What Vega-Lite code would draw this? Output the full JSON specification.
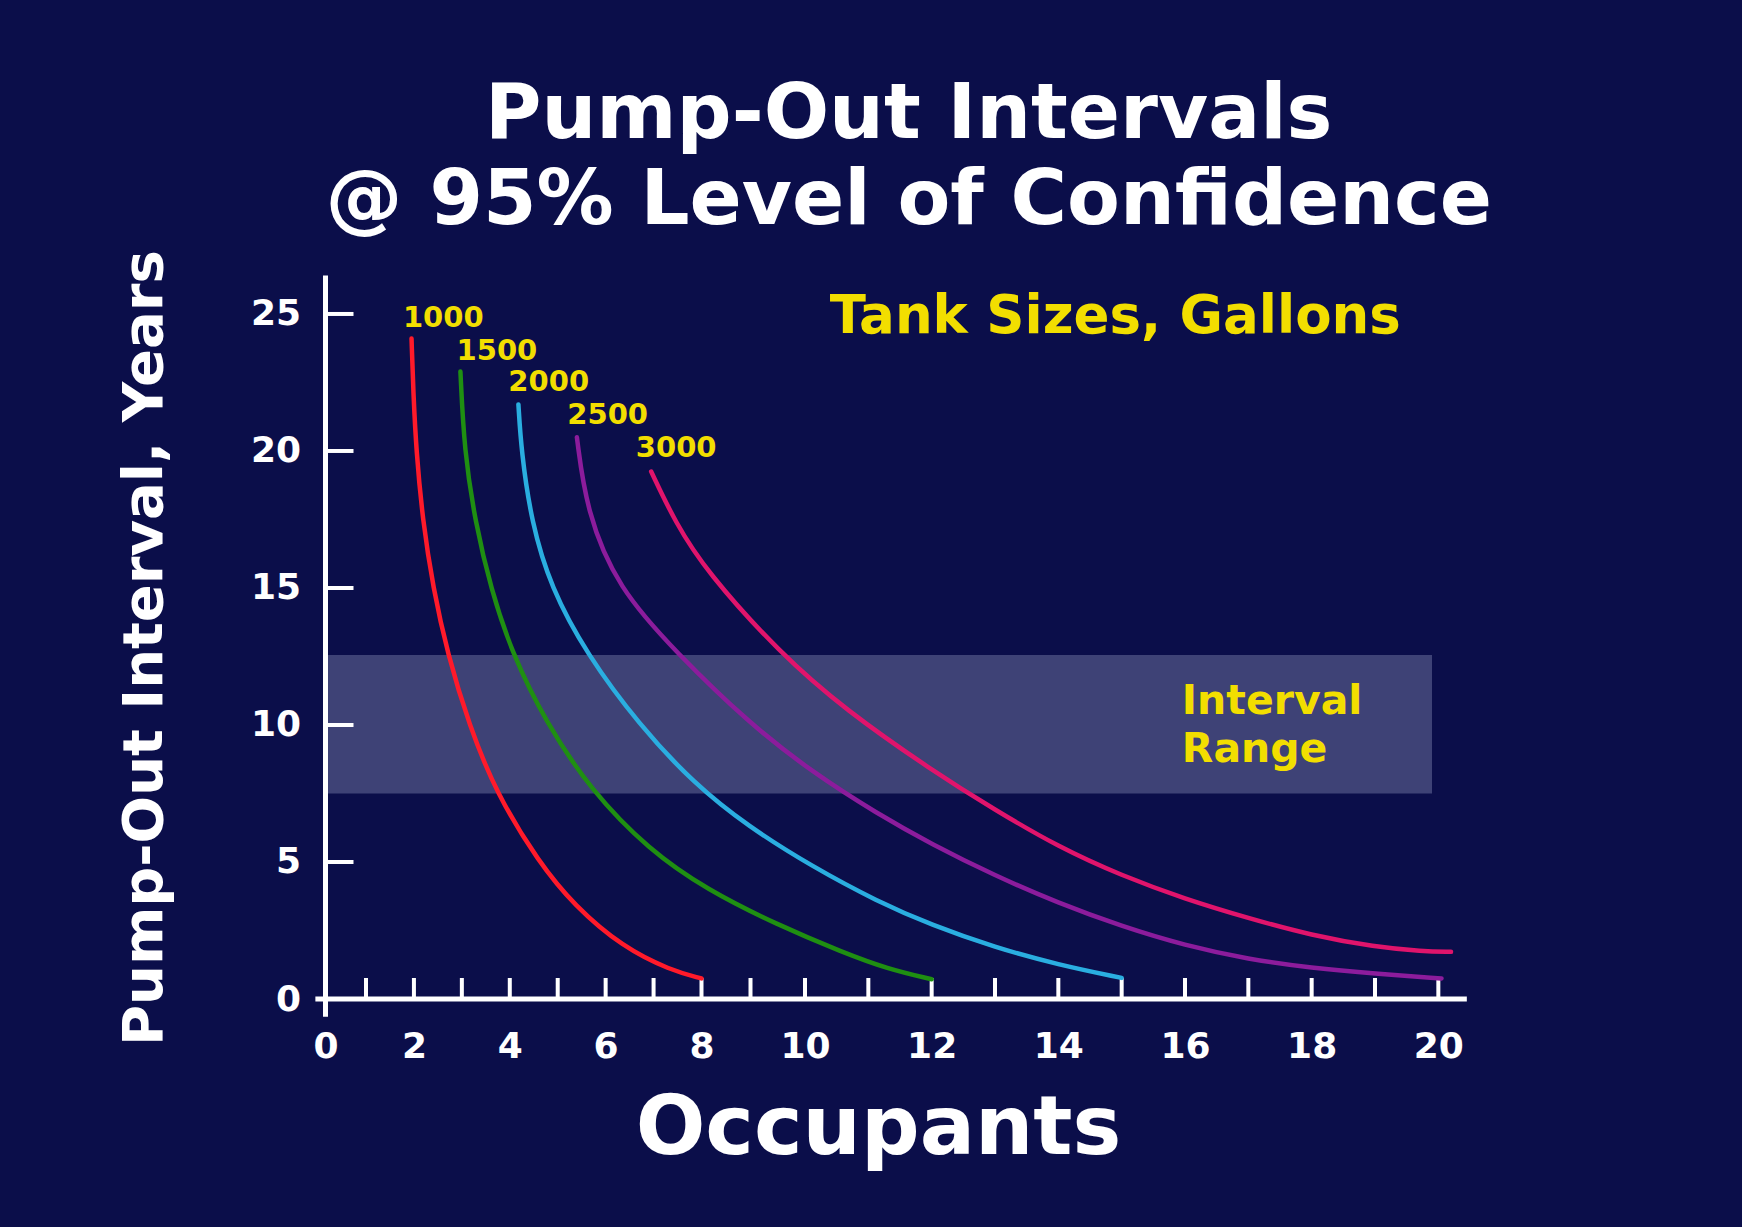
{
  "$schema": "https://vega.github.io/schema/vega-lite/v6.json",
  "width": 1144.5,
  "height": 723.4,
  "autosize": {"type": "none"},
  "padding": {"left": 325.5, "top": 275.6, "right": 272, "bottom": 228},
  "background": "#0b0e4a",
  "config": {"view": {"stroke": null}, "font": "DejaVu Sans"},
  "title": {
    "text": ["Pump-Out Intervals", "@ 95% Level of Confidence"],
    "font": "DejaVu Sans",
    "fontSize": 77,
    "fontWeight": "bold",
    "color": "white",
    "lineHeight": 86,
    "anchor": "middle",
    "frame": "group",
    "dx": 11,
    "offset": 10
  },
  "encoding": {
    "x": {
      "field": "occ",
      "type": "quantitative",
      "scale": {"domain": [0, 1, 8, 9, 10, 20.5], "range": [0, 40.5, 376, 425, 479.5, 1144.5], "nice": false, "zero": false},
      "axis": {
        "title": "Occupants",
        "values": [0, 2, 4, 6, 8, 10, 12, 14, 16, 18, 20],
        "domain": false, "ticks": false, "tickSize": 0, "grid": false,
        "labelFont": "DejaVu Sans", "labelFontSize": 36, "labelFontWeight": "bold", "labelColor": "white",
        "labelPadding": 30, "labelFlush": false, "labelOverlap": false,
        "titleFont": "DejaVu Sans", "titleFontSize": 82, "titleFontWeight": "bold", "titleColor": "white",
        "titleX": 552.5, "titleY": 154, "titleBaseline": "alphabetic", "titleAlign": "center"
      }
    },
    "y": {
      "field": "yrs",
      "type": "quantitative",
      "scale": {"domain": [0, 26.4], "nice": false, "zero": false},
      "axis": {
        "title": "Pump-Out Interval, Years",
        "values": [0, 5, 10, 15, 20, 25],
        "domain": false, "ticks": false, "tickSize": 0, "grid": false,
        "labelFont": "DejaVu Sans", "labelFontSize": 36, "labelFontWeight": "bold", "labelColor": "white",
        "labelPadding": 25, "labelFlush": false, "labelOverlap": false,
        "titleFont": "DejaVu Sans", "titleFontSize": 56, "titleFontWeight": "bold", "titleColor": "white",
        "titleX": -164, "titleY": 372, "titleAngle": -90, "titleBaseline": "alphabetic", "titleAlign": "center"
      }
    }
  },
  "layer": [
    {
      "data": {"values": [{"occ": 0, "occ2": 19.9, "yrs": 7.5, "yrs2": 12.55}]},
      "mark": {"type": "rect", "fill": "#3e4276"},
      "encoding": {"x2": {"field": "occ2"}, "y2": {"field": "yrs2"}}
    },
    {
      "data": {"values": [
        {"occ": 1, "yrs": 0}, {"occ": 2, "yrs": 0}, {"occ": 3, "yrs": 0}, {"occ": 4, "yrs": 0}, {"occ": 5, "yrs": 0},
        {"occ": 6, "yrs": 0}, {"occ": 7, "yrs": 0}, {"occ": 8, "yrs": 0}, {"occ": 9, "yrs": 0}, {"occ": 10, "yrs": 0},
        {"occ": 11, "yrs": 0}, {"occ": 12, "yrs": 0}, {"occ": 13, "yrs": 0}, {"occ": 14, "yrs": 0}, {"occ": 15, "yrs": 0},
        {"occ": 16, "yrs": 0}, {"occ": 17, "yrs": 0}, {"occ": 18, "yrs": 0}, {"occ": 19, "yrs": 0}, {"occ": 20, "yrs": 0}
      ]},
      "mark": {"type": "tick", "orient": "vertical", "color": "white", "size": 21, "thickness": 4, "yOffset": -10.5, "opacity": 1}
    },
    {
      "data": {"values": [
        {"occ": 0, "yrs": 5}, {"occ": 0, "yrs": 10}, {"occ": 0, "yrs": 15}, {"occ": 0, "yrs": 20}, {"occ": 0, "yrs": 25}
      ]},
      "mark": {"type": "tick", "orient": "horizontal", "color": "white", "size": 28, "thickness": 4, "xOffset": 14, "opacity": 1}
    },
    {
      "data": {"values": [
        {"occ": -0.25, "occ2": 20.45, "yrs": 0, "yrs2": 0},
        {"occ": 0, "occ2": 0, "yrs": -0.65, "yrs2": 26.4}
      ]},
      "mark": {"type": "rule", "color": "white", "strokeWidth": 5},
      "encoding": {"x2": {"field": "occ2"}, "y2": {"field": "yrs2"}}
    },
    {
      "data": {"values": [
        {"tank": "1000", "occ": 1.95, "yrs": 24.1}, {"tank": "1000", "occ": 1.99, "yrs": 22.0}, {"tank": "1000", "occ": 2.05, "yrs": 20.0},
        {"tank": "1000", "occ": 2.18, "yrs": 17.5}, {"tank": "1000", "occ": 2.4, "yrs": 15.0}, {"tank": "1000", "occ": 2.7, "yrs": 12.6},
        {"tank": "1000", "occ": 3.15, "yrs": 10.0}, {"tank": "1000", "occ": 3.72, "yrs": 7.5}, {"tank": "1000", "occ": 4.6, "yrs": 5.0},
        {"tank": "1000", "occ": 5.35, "yrs": 3.4}, {"tank": "1000", "occ": 6.35, "yrs": 1.9}, {"tank": "1000", "occ": 7.35, "yrs": 1.05},
        {"tank": "1000", "occ": 8.0, "yrs": 0.75},
        {"tank": "1500", "occ": 2.97, "yrs": 22.9}, {"tank": "1500", "occ": 3.05, "yrs": 20.0}, {"tank": "1500", "occ": 3.28, "yrs": 17.4},
        {"tank": "1500", "occ": 3.6, "yrs": 15.0}, {"tank": "1500", "occ": 4.05, "yrs": 12.6}, {"tank": "1500", "occ": 4.75, "yrs": 10.1},
        {"tank": "1500", "occ": 5.7, "yrs": 7.6}, {"tank": "1500", "occ": 6.9, "yrs": 5.45}, {"tank": "1500", "occ": 8.1, "yrs": 4.0},
        {"tank": "1500", "occ": 9.5, "yrs": 2.7}, {"tank": "1500", "occ": 10.6, "yrs": 1.7}, {"tank": "1500", "occ": 11.3, "yrs": 1.1},
        {"tank": "1500", "occ": 12.0, "yrs": 0.72},
        {"tank": "2000", "occ": 4.18, "yrs": 21.7}, {"tank": "2000", "occ": 4.24, "yrs": 20.0}, {"tank": "2000", "occ": 4.45, "yrs": 17.4},
        {"tank": "2000", "occ": 4.86, "yrs": 15.0}, {"tank": "2000", "occ": 5.6, "yrs": 12.6}, {"tank": "2000", "occ": 6.7, "yrs": 10.0},
        {"tank": "2000", "occ": 7.85, "yrs": 7.85}, {"tank": "2000", "occ": 8.95, "yrs": 6.3}, {"tank": "2000", "occ": 10.1, "yrs": 4.85},
        {"tank": "2000", "occ": 11.15, "yrs": 3.55}, {"tank": "2000", "occ": 12.0, "yrs": 2.7}, {"tank": "2000", "occ": 13.0, "yrs": 1.88},
        {"tank": "2000", "occ": 14.0, "yrs": 1.25}, {"tank": "2000", "occ": 15.0, "yrs": 0.77},
        {"tank": "2500", "occ": 5.4, "yrs": 20.5}, {"tank": "2500", "occ": 5.6, "yrs": 17.8}, {"tank": "2500", "occ": 6.25, "yrs": 15.0},
        {"tank": "2500", "occ": 7.5, "yrs": 12.6}, {"tank": "2500", "occ": 8.95, "yrs": 10.1}, {"tank": "2500", "occ": 10.1, "yrs": 8.3},
        {"tank": "2500", "occ": 11.15, "yrs": 6.75}, {"tank": "2500", "occ": 12.0, "yrs": 5.65}, {"tank": "2500", "occ": 13.0, "yrs": 4.5},
        {"tank": "2500", "occ": 14.0, "yrs": 3.5}, {"tank": "2500", "occ": 15.0, "yrs": 2.65}, {"tank": "2500", "occ": 16.0, "yrs": 1.95},
        {"tank": "2500", "occ": 17.0, "yrs": 1.45}, {"tank": "2500", "occ": 18.0, "yrs": 1.13}, {"tank": "2500", "occ": 19.0, "yrs": 0.92},
        {"tank": "2500", "occ": 20.05, "yrs": 0.75},
        {"tank": "3000", "occ": 6.95, "yrs": 19.25}, {"tank": "3000", "occ": 7.45, "yrs": 17.4}, {"tank": "3000", "occ": 8.1, "yrs": 15.6},
        {"tank": "3000", "occ": 9.55, "yrs": 12.6}, {"tank": "3000", "occ": 10.64, "yrs": 10.55},
        {"tank": "3000", "occ": 12.0, "yrs": 8.35}, {"tank": "3000", "occ": 13.0, "yrs": 6.9},
        {"tank": "3000", "occ": 14.0, "yrs": 5.55}, {"tank": "3000", "occ": 15.0, "yrs": 4.5}, {"tank": "3000", "occ": 16.0, "yrs": 3.65},
        {"tank": "3000", "occ": 17.0, "yrs": 2.95}, {"tank": "3000", "occ": 18.0, "yrs": 2.32}, {"tank": "3000", "occ": 19.0, "yrs": 1.9},
        {"tank": "3000", "occ": 19.75, "yrs": 1.74}, {"tank": "3000", "occ": 20.2, "yrs": 1.72}
      ]},
      "mark": {"type": "line", "strokeWidth": 4.5, "interpolate": "basis", "strokeCap": "round"},
      "encoding": {
        "color": {
          "field": "tank", "type": "nominal", "legend": null,
          "scale": {"domain": ["1000", "1500", "2000", "2500", "3000"], "range": ["#ff1a2a", "#1f8f12", "#2aaee0", "#8c1c9c", "#e0146c"]}
        },
        "detail": {"field": "tank"}
      }
    },
    {
      "data": {"values": [
        {"label": "1000", "occ": 1.77, "yrs": 24.85},
        {"label": "1500", "occ": 2.89, "yrs": 23.65},
        {"label": "2000", "occ": 3.97, "yrs": 22.5},
        {"label": "2500", "occ": 5.2, "yrs": 21.3},
        {"label": "3000", "occ": 6.63, "yrs": 20.1}
      ]},
      "mark": {"type": "text", "align": "left", "baseline": "middle", "color": "#f2de00", "font": "DejaVu Sans", "fontSize": 29, "fontWeight": "bold"},
      "encoding": {"text": {"field": "label"}}
    },
    {
      "data": {"values": [{"label": "Tank Sizes, Gallons", "occ": 14.9, "yrs": 24.9}]},
      "mark": {"type": "text", "align": "center", "baseline": "middle", "color": "#f2de00", "font": "DejaVu Sans", "fontSize": 53, "fontWeight": "bold"},
      "encoding": {"text": {"field": "label"}}
    },
    {
      "data": {"values": [
        {"label": "Interval", "occ": 15.95, "yrs": 10.4},
        {"label": "Range", "occ": 15.95, "yrs": 8.65}
      ]},
      "mark": {"type": "text", "align": "left", "baseline": "alphabetic", "color": "#f2de00", "font": "DejaVu Sans", "fontSize": 41, "fontWeight": "bold"},
      "encoding": {"text": {"field": "label"}}
    }
  ]
}
